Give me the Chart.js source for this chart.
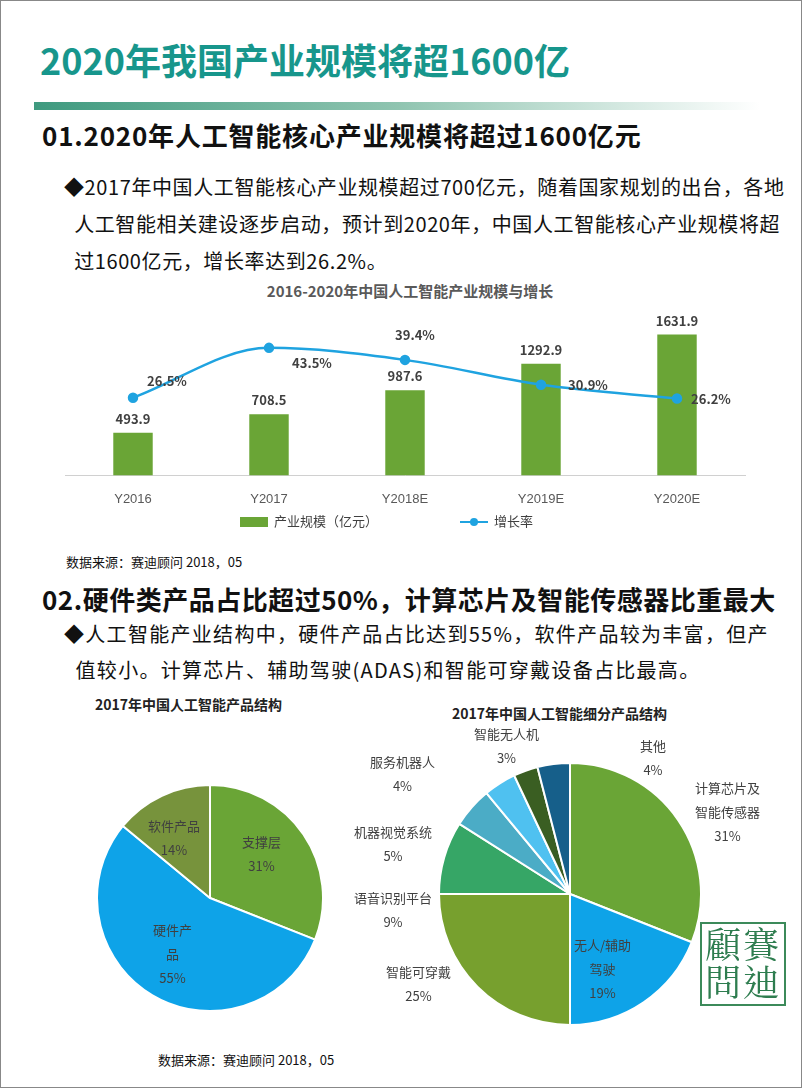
<!DOCTYPE html>
<html><head><meta charset="utf-8">
<script src="https://cdn.jsdelivr.net/npm/chart.js@4.4.1/dist/chart.umd.min.js"></script>
<style>
body{margin:0;width:802px;height:1088px;position:relative;background:#fff;font-family:"Noto Sans CJK SC","Noto Sans",sans-serif;overflow:hidden}
.a{position:absolute;white-space:nowrap}
#frame{position:absolute;left:0;top:0;width:800px;height:1086px;border:1px solid #888}
.lab{position:absolute;text-align:center;font-size:13px;color:#404040;line-height:24px}
</style></head><body>
<div id="frame"></div>
<div class="a" style="left:40px;top:33px;font-size:36px;font-weight:bold;color:#17968c">2020年我国产业规模将超1600亿</div>
<div class="a" style="left:34px;top:102px;width:726px;height:8px;background:linear-gradient(90deg,#3f9a7f,#8fc4b0 50%,rgba(255,255,255,0))"></div>
<div class="a" style="left:42px;top:116px;font-size:26px;font-weight:bold;color:#111;letter-spacing:0.8px">01.2020年人工智能核心产业规模将超过1600亿元</div>
<div class="a" style="left:64px;top:168px;font-size:20px;line-height:37px;color:#111;letter-spacing:0.6px">◆2017年中国人工智能核心产业规模超过700亿元，随着国家规划的出台，各地<br>&nbsp;&nbsp;人工智能相关建设逐步启动，预计到2020年，中国人工智能核心产业规模将超<br>&nbsp;&nbsp;过1600亿元，增长率达到26.2%。</div>
<div class="a" style="left:0;width:820px;top:280px;text-align:center;font-size:15px;font-weight:bold;color:#595959">2016-2020年中国人工智能产业规模与增长</div>
<div style="position:absolute;left:40px;top:300px;width:730px;height:215px"><canvas id="bar"></canvas></div>
<div class="a" style="left:240px;top:511px;font-size:13px;color:#404040"><span style="display:inline-block;width:28px;height:10px;background:#6aa536;vertical-align:middle;margin-right:6px"></span>产业规模（亿元）</div>
<div class="a" style="left:460px;top:511px;font-size:13px;color:#404040"><span style="display:inline-block;position:relative;width:28px;height:2px;background:#1fa3e0;vertical-align:middle;margin-right:6px"><span style="position:absolute;left:10px;top:-3px;width:8px;height:8px;border-radius:4px;background:#1fa3e0"></span></span>增长率</div>
<div class="a" style="left:66px;top:552px;font-size:13px;color:#111">数据来源：赛迪顾问 2018，05</div>
<div class="a" style="left:42px;top:580px;font-size:26px;font-weight:bold;color:#111;letter-spacing:0.5px">02.硬件类产品占比超过50%，计算芯片及智能传感器比重最大</div>
<div class="a" style="left:64px;top:616px;font-size:20px;line-height:36px;color:#111;letter-spacing:1.3px">◆人工智能产业结构中，硬件产品占比达到55%，软件产品较为丰富，但产<br>&nbsp;&nbsp;值较小。计算芯片、辅助驾驶(ADAS)和智能可穿戴设备占比最高。</div>
<div class="a" style="left:95px;top:694px;font-size:14px;font-weight:bold;color:#222">2017年中国人工智能产品结构</div>
<div class="a" style="left:452px;top:703px;font-size:14px;font-weight:bold;color:#222">2017年中国人工智能细分产品结构</div>
<div style="position:absolute;left:96px;top:784px;width:228px;height:228px"><canvas id="pie1"></canvas></div>
<div style="position:absolute;left:438px;top:762px;width:264px;height:264px"><canvas id="pie2"></canvas></div>
<div class="lab" style="left:242px;top:830px">支撑层<br>31%</div>
<div class="lab" style="left:153px;top:918px">硬件产<br>品<br>55%</div>
<div class="lab" style="left:148px;top:814px">软件产品<br>14%</div>
<div class="lab" style="left:474px;top:722px">智能无人机<br>3%</div>
<div class="lab" style="left:640px;top:734px">其他<br>4%</div>
<div class="lab" style="left:370px;top:750px">服务机器人<br>4%</div>
<div class="lab" style="left:695px;top:776px">计算芯片及<br>智能传感器<br>31%</div>
<div class="lab" style="left:354px;top:820px">机器视觉系统<br>5%</div>
<div class="lab" style="left:354px;top:886px">语音识别平台<br>9%</div>
<div class="lab" style="left:386px;top:960px">智能可穿戴<br>25%</div>
<div class="lab" style="left:574px;top:933px">无人/辅助<br>驾驶<br>19%</div>
<div class="a" style="left:700px;top:922px;width:82px;height:80px;border:2px solid #3c8a5a;font-family:'AR PL UMing CN','Noto Serif CJK TC','Noto Sans CJK TC',serif;font-size:36px;line-height:38px;color:#2e7d4f;text-align:center;letter-spacing:2px">顧賽<br>問迪</div>
<div class="a" style="left:158px;top:1050px;font-size:13px;color:#111">数据来源：赛迪顾问 2018，05</div>
<script>
const years = ['Y2016','Y2017','Y2018E','Y2019E','Y2020E'];
const scale = [493.9, 708.5, 987.6, 1292.9, 1631.9];
const growth = [26.5, 43.5, 39.4, 30.9, 26.2];
const pie1Labels = ['支撑层','硬件产品','软件产品'];
const pie1Values = [31, 55, 14];
const pie2Labels = ['计算芯片及智能传感器','无人/辅助驾驶','智能可穿戴','语音识别平台','机器视觉系统','服务机器人','智能无人机','其他'];
const pie2Values = [31, 19, 25, 9, 5, 4, 3, 4];

const labelPlugin = {
  id: 'vals',
  afterDatasetsDraw(chart) {
    const ctx = chart.ctx;
    ctx.save();
    ctx.font = 'bold 13px "Noto Sans CJK SC", sans-serif';
    ctx.fillStyle = '#404040';
    ctx.textAlign = 'center';
    chart.getDatasetMeta(0).data.forEach((b, i) => ctx.fillText(scale[i].toFixed(1), b.x, b.y - 9));
    const off = [[34, -12], [43, 20], [10, -20], [47, 5], [34, 5]];
    chart.getDatasetMeta(1).data.forEach((p, i) => ctx.fillText(growth[i].toFixed(1) + '%', p.x + off[i][0], p.y + off[i][1]));
    ctx.restore();
  }
};

new Chart(document.getElementById('bar'), {
  data: {
    labels: years,
    datasets: [
      { type: 'bar', data: scale, backgroundColor: '#6aa536', barPercentage: 0.29, categoryPercentage: 1, yAxisID: 'y', order: 2 },
      { type: 'line', data: growth, borderColor: '#1fa3e0', backgroundColor: '#1fa3e0', borderWidth: 2.5, pointRadius: 4, tension: 0.45, cubicInterpolationMode: 'monotone', yAxisID: 'y1', order: 1 }
    ]
  },
  options: {
    responsive: true, maintainAspectRatio: false, animation: false,
    layout: { padding: { left: 25, right: 25, top: 20 } },
    plugins: { legend: { display: false }, tooltip: { enabled: false } },
    scales: {
      x: { grid: { display: false }, border: { color: '#d0d0d0' }, ticks: { color: '#595959', font: { size: 13 }, padding: 8 } },
      y: { display: false, min: 0, max: 1800 },
      y1: { display: false, min: 0, max: 53 }
    }
  },
  plugins: [labelPlugin]
});

const pieOpts = { responsive: true, maintainAspectRatio: false, animation: false, plugins: { legend: { display: false }, tooltip: { enabled: false } } };
new Chart(document.getElementById('pie1'), {
  type: 'pie',
  data: { labels: pie1Labels, datasets: [{ data: pie1Values, backgroundColor: ['#6aa536', '#0ea3e8', '#77933c'], borderColor: '#fff', borderWidth: 2 }] },
  options: pieOpts
});
new Chart(document.getElementById('pie2'), {
  type: 'pie',
  data: { labels: pie2Labels, datasets: [{ data: pie2Values, backgroundColor: ['#6aa536', '#0ea3e8', '#77a02e', '#36a666', '#4bacc6', '#4fc1f0', '#3a5e22', '#165f8a'], borderColor: '#fff', borderWidth: 2 }] },
  options: pieOpts
});
</script>
</body></html>
